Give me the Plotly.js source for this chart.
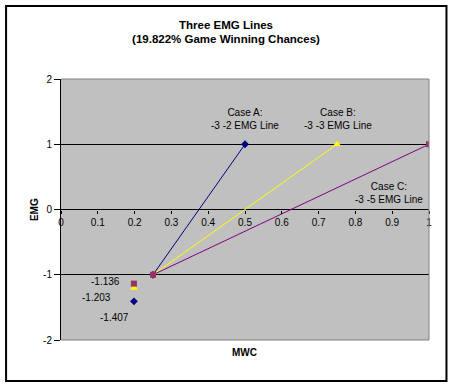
<!DOCTYPE html>
<html>
<head>
<meta charset="utf-8">
<script src="https://cdn.plot.ly/plotly-3.0.1.min.js"></script>
<style>
html,body{margin:0;padding:0;background:#fff;}
#chart{width:454px;height:388px;}
</style>
</head>
<body>
<div id="chart"></div>
<script>
// Data
var caseA_x = [0.25, 0.5];
var caseA_y = [-1, 1];
var caseB_x = [0.25, 0.75];
var caseB_y = [-1, 1];
var caseC_x = [0.25, 1];
var caseC_y = [-1, 1];
var gwc = 0.19822;
var pointLabels = ["Case A", "Case B", "Case C"];
var pointValues = [-1.407, -1.203, -1.136];
var caseNames = ["Case A:<br>-3 -2 EMG Line", "Case B:<br>-3 -3 EMG Line", "Case C:<br>-3 -5 EMG Line"];
var xTicks = [0, 0.1, 0.2, 0.3, 0.4, 0.5, 0.6, 0.7, 0.8, 0.9, 1];
var yTicks = [-2, -1, 0, 1, 2];

var navy = '#000080', yellow = '#FFFF00', purple = '#800080', maroon = '#993366';
var FONT = 'Liberation Sans, Arial, sans-serif';

var traces = [
  {x: caseA_x, y: caseA_y, mode: 'lines+markers', line: {color: navy, width: 1},
   marker: {symbol: 'diamond', size: 6, color: navy}, hoverinfo: 'none'},
  {x: caseB_x, y: caseB_y, mode: 'lines+markers', line: {color: yellow, width: 1},
   marker: {symbol: 'triangle-up', size: 7, color: yellow}, hoverinfo: 'none'},
  {x: caseC_x, y: caseC_y, mode: 'lines+markers', line: {color: purple, width: 1},
   marker: {symbol: 'square', size: 6, color: maroon}, hoverinfo: 'none'},
  {x: [gwc], y: [pointValues[0]], mode: 'markers',
   marker: {symbol: 'diamond', size: 6, color: navy}, hoverinfo: 'none'},
  {x: [gwc], y: [pointValues[1]], mode: 'markers',
   marker: {symbol: 'triangle-up', size: 7, color: yellow}, hoverinfo: 'none'},
  {x: [gwc], y: [pointValues[2]], mode: 'markers',
   marker: {symbol: 'square', size: 6, color: maroon}, hoverinfo: 'none'}
];

var tf = {family: FONT, size: 10, color: '#000'};
var annotations = [
  {x: 0.499, y: 1.387, xref: 'x', yref: 'y', text: caseNames[0], showarrow: false, font: tf},
  {x: 0.752, y: 1.387, xref: 'x', yref: 'y', text: caseNames[1], showarrow: false, font: tf},
  {x: 0.891, y: 0.26, xref: 'x', yref: 'y', text: caseNames[2], showarrow: false, font: tf},
  {x: 0.1216, y: -1.107, xref: 'x', yref: 'y', text: pointValues[2].toFixed(3), showarrow: false, font: tf},
  {x: 0.0969, y: -1.356, xref: 'x', yref: 'y', text: pointValues[1].toFixed(3), showarrow: false, font: tf},
  {x: 0.1465, y: -1.648, xref: 'x', yref: 'y', text: pointValues[0].toFixed(3), showarrow: false, font: tf},
  {x: (245-61)/368.5, y: (340-360)/261, xref: 'paper', yref: 'paper', text: '<b>MWC</b>', showarrow: false,
   font: {family: FONT, size: 10, color: '#000'}},
  {x: (27-61)/368.5, y: 0.5, xref: 'paper', yref: 'paper', text: '<b>EMG</b>', textangle: -90, showarrow: false,
   font: {family: FONT, size: 10, color: '#000'}}
];

var shapes = [
  {type: 'line', xref: 'paper', yref: 'paper', x0: 0, x1: 1, y0: 1, y1: 1, line: {color: '#808080', width: 1}},
  {type: 'line', xref: 'paper', yref: 'paper', x0: 1, x1: 1, y0: 0, y1: 1, line: {color: '#808080', width: 1}},
  {type: 'line', xref: 'paper', yref: 'paper', x0: 0, x1: 1, y0: 0, y1: 0, line: {color: '#808080', width: 1}},
  {type: 'rect', xref: 'paper', yref: 'paper', x0: (6-61)/368.5, x1: (447-61)/368.5,
   y0: (340-381)/261, y1: (340-6)/261, line: {color: '#000', width: 2}, layer: 'below'}
];

var layout = {
  width: 454, height: 388,
  margin: {l: 61, r: 24.5, t: 79, b: 48},
  paper_bgcolor: '#fff', plot_bgcolor: '#C0C0C0',
  showlegend: false,
  title: {text: '<b>Three EMG Lines<br>(19.822% Game Winning Chances)</b>',
    x: 226/454, xanchor: 'center', y: 1 - 28.5/388, yanchor: 'middle', yref: 'container',
    font: {family: FONT, size: 11.5, color: '#000'}},
  xaxis: {range: [0, 1], tickvals: xTicks, ticktext: xTicks.map(String),
    anchor: 'free', position: 0.5, showline: false,
    ticks: 'outside', ticklen: 3, tickcolor: '#000', showgrid: false, zeroline: false,
    tickfont: tf, fixedrange: true},
  yaxis: {range: [-2, 2], tickvals: yTicks, ticktext: yTicks.map(String),
    showline: true, linecolor: '#000', linewidth: 1, ticks: 'outside', ticklen: 6, tickcolor: '#000',
    showgrid: true, gridcolor: '#000', gridwidth: 1, zeroline: false,
    tickfont: tf, fixedrange: true},
  annotations: annotations,
  shapes: shapes
};

Plotly.newPlot('chart', traces, layout, {displayModeBar: false, staticPlot: true});
</script>
</body>
</html>
